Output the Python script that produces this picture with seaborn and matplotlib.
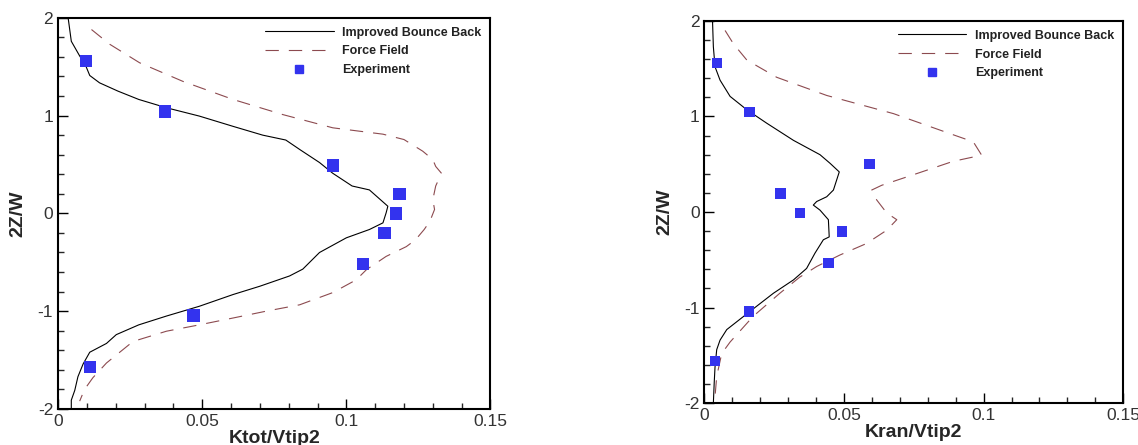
import numpy as np
import pandas as pd
import matplotlib
matplotlib.use("Agg")
import matplotlib.pyplot as plt
from matplotlib.ticker import MultipleLocator, FuncFormatter
from matplotlib.lines import Line2D
import seaborn as sns

# ---- left panel: Ktot/Vtip2 ----
ktot_ibb_x = [0.0035, 0.0046, 0.0075, 0.0096, 0.011, 0.0144, 0.0208, 0.028, 0.0376, 0.049,
              0.0607, 0.071, 0.079, 0.084, 0.0907, 0.0953, 0.102, 0.108, 0.1144, 0.1138,
              0.1127, 0.108, 0.100, 0.0907, 0.0849, 0.0803, 0.070, 0.0607, 0.049, 0.0376,
              0.028, 0.0202, 0.0168, 0.011, 0.0087, 0.0069, 0.0058, 0.0046, 0.0046]
ktot_ibb_z = [2.0, 1.76, 1.61, 1.51, 1.41, 1.335, 1.25, 1.165, 1.08, 0.995,
              0.89, 0.80, 0.75, 0.65, 0.52, 0.41, 0.28, 0.24, 0.073, 0.005,
              -0.097, -0.165, -0.25, -0.40, -0.57, -0.64, -0.745, -0.83, -0.95, -1.05,
              -1.14, -1.24, -1.33, -1.42, -1.54, -1.67, -1.81, -1.91, -2.0]
ktot_ff_x = [0.0116, 0.0179, 0.0283, 0.0433, 0.0607, 0.078, 0.0953, 0.1127, 0.120, 0.1265,
             0.130, 0.131, 0.133, 0.131, 0.130, 0.1306, 0.129, 0.127, 0.124, 0.1208,
             0.1138, 0.107, 0.1034, 0.0953, 0.0838, 0.0722, 0.0607, 0.049, 0.0376, 0.026,
             0.0168, 0.0121, 0.0092, 0.0075]
ktot_ff_z = [1.88, 1.73, 1.54, 1.35, 1.165, 1.01, 0.875, 0.81, 0.755, 0.636,
             0.55, 0.48, 0.41, 0.28, 0.14, 0.04, -0.08, -0.165, -0.27, -0.34,
             -0.44, -0.575, -0.68, -0.81, -0.935, -1.0, -1.07, -1.14, -1.205, -1.31,
             -1.53, -1.68, -1.80, -1.92]
ktot_exp_x = [0.0096, 0.0372, 0.0953, 0.1185, 0.1173, 0.1133, 0.1057, 0.047, 0.011]
ktot_exp_z = [1.56, 1.04, 0.49, 0.20, 0.0, -0.20, -0.52, -1.045, -1.57]

# ---- right panel: Kran/Vtip2 ----
kran_ibb_x = [0.0029, 0.0032, 0.0038, 0.0056, 0.0092, 0.0152, 0.0223, 0.0319, 0.0414, 0.045,
              0.0483, 0.0462, 0.0438, 0.0402, 0.039, 0.0414, 0.0444, 0.0447, 0.0426, 0.0396,
              0.0366, 0.0319, 0.0247, 0.0163, 0.008, 0.0056, 0.0044, 0.0038, 0.0035, 0.0032]
kran_ibb_z = [2.0, 1.73, 1.52, 1.38, 1.21, 1.07, 0.93, 0.75, 0.60, 0.51,
              0.42, 0.23, 0.16, 0.11, 0.073, 0.02, -0.08, -0.26, -0.29, -0.43,
              -0.59, -0.71, -0.85, -1.04, -1.23, -1.34, -1.44, -1.62, -1.79, -2.0]
kran_ff_x = [0.0074, 0.0104, 0.0152, 0.0259, 0.0438, 0.0677, 0.088, 0.0963, 0.0993, 0.089,
             0.0748, 0.0635, 0.0599, 0.0617, 0.0653, 0.0689, 0.0653, 0.058, 0.0485, 0.0402,
             0.0342, 0.027, 0.0175, 0.0092, 0.0062, 0.0044, 0.0038]
kran_ff_z = [1.90, 1.76, 1.59, 1.41, 1.22, 1.03, 0.82, 0.735, 0.595, 0.53,
             0.39, 0.28, 0.23, 0.127, -0.01, -0.08, -0.19, -0.33, -0.45, -0.57,
             -0.68, -0.85, -1.09, -1.36, -1.48, -1.72, -1.93]
kran_exp_x = [0.0044, 0.0161, 0.0591, 0.0273, 0.0342, 0.0492, 0.0444, 0.0159, 0.0039]
kran_exp_z = [1.56, 1.045, 0.50, 0.195, -0.007, -0.205, -0.53, -1.04, -1.56]

sns.set_style("ticks")
plt.rcParams["font.family"] = ["Liberation Sans", "DejaVu Sans"]

ff_color = "#8c4a4f"
exp_color = "#3333ee"
ff_dash = (0, (12, 9))

fig = plt.figure(figsize=(11.38, 4.45), dpi=100)
ax1 = fig.add_axes([0.051, 0.081, 0.380, 0.879])
ax2 = fig.add_axes([0.619, 0.094, 0.368, 0.859])


def draw(ax, ibb_x, ibb_z, ff_x, ff_z, ex_x, ex_z, xlabel, msize):
    sns.lineplot(x=ibb_x, y=ibb_z, sort=False, ax=ax, color="black", lw=0.8, estimator=None)
    sns.lineplot(x=ff_x, y=ff_z, sort=False, ax=ax, color=ff_color, lw=0.8,
                 estimator=None, linestyle=ff_dash)
    sns.scatterplot(x=ex_x, y=ex_z, ax=ax, marker="s", s=msize, color=exp_color,
                    edgecolor="none", zorder=5)
    ax.set_xlim(0, 0.15)
    ax.set_ylim(-2, 2)
    ax.xaxis.set_major_locator(MultipleLocator(0.05))
    ax.xaxis.set_minor_locator(MultipleLocator(0.01))
    ax.yaxis.set_major_locator(MultipleLocator(1))
    ax.yaxis.set_minor_locator(MultipleLocator(0.2))
    ax.xaxis.set_major_formatter(FuncFormatter(lambda v, p: f"{v:g}"))
    ax.yaxis.set_major_formatter(FuncFormatter(lambda v, p: f"{v:g}"))
    ax.tick_params(which="major", direction="in", length=7, width=1, labelsize=12.5,
                   colors="black", labelcolor="#333333")
    ax.tick_params(which="minor", direction="in", length=4, width=1)
    for sp in ax.spines.values():
        sp.set_visible(True)
        sp.set_linewidth(1.5)
        sp.set_color("black")
    ax.set_xlabel(xlabel, fontsize=14, fontweight="bold", labelpad=1)
    ax.set_ylabel("2Z/W", fontsize=14, fontweight="bold", labelpad=8)
    handles = [
        Line2D([], [], color="black", lw=0.8),
        Line2D([], [], color=ff_color, lw=0.8, linestyle=ff_dash),
        Line2D([], [], color=exp_color, marker="s", ls="none", markersize=np.sqrt(msize) * 0.7),
    ]
    leg = ax.legend(handles, ["Improved Bounce Back", "Force Field", "Experiment"],
                    loc="upper right", frameon=False, fontsize=9, handlelength=5.5,
                    handletextpad=0.7, labelspacing=0.55, borderaxespad=0.3)
    for t in leg.get_texts():
        t.set_fontweight("bold")
        t.set_color("#222222")


draw(ax1, ktot_ibb_x, ktot_ibb_z, ktot_ff_x, ktot_ff_z, ktot_exp_x, ktot_exp_z,
     "Ktot/Vtip2", 80)
draw(ax2, kran_ibb_x, kran_ibb_z, kran_ff_x, kran_ff_z, kran_exp_x, kran_exp_z,
     "Kran/Vtip2", 55)

fig.savefig("out.png", dpi=100)
